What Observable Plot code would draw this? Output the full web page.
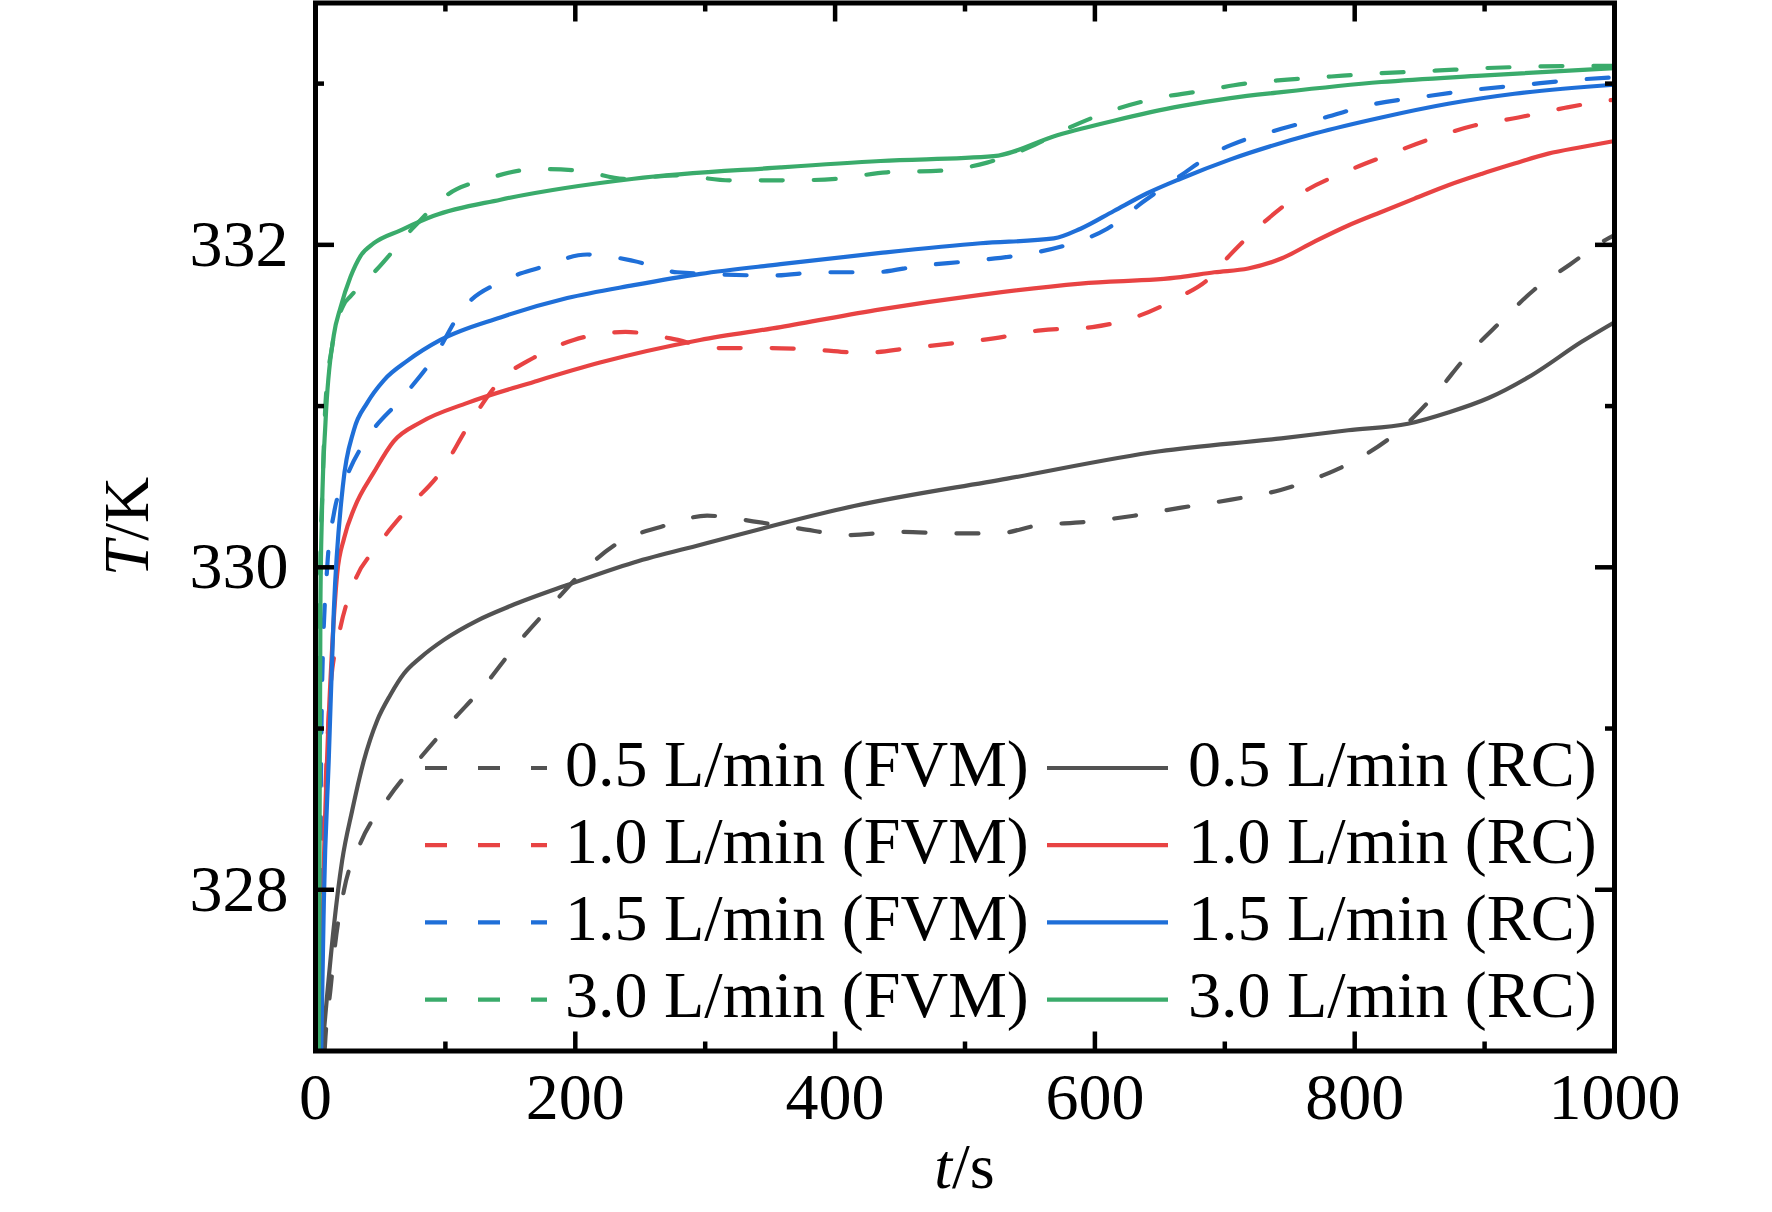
<!DOCTYPE html>
<html>
<head>
<meta charset="utf-8">
<script src="https://cdn.jsdelivr.net/npm/d3@7"></script>
<script src="https://cdn.jsdelivr.net/npm/@observablehq/plot@0.6"></script>
<style>
  html, body { margin: 0; padding: 0; background: #fff; }
  #chart { width: 1772px; height: 1212px; }
</style>
</head>
<body>
<div id="chart"></div>
<script>
// ---------- data ----------
const flowRates = ["0.5", "1.0", "1.5", "3.0"];
const seriesColors = ["#525252", "#e84343", "#1f6fd8", "#3aab6b"];

const xMajorTicks = [0, 200, 400, 600, 800, 1000];
const xMinorTicks = [100, 300, 500, 700, 900];
const yMajorTicks = [328, 330, 332];
const yMinorTicks = [329, 331, 333];

// 0.5 L/min
const t05FVM = [7, 7.7, 11.5, 15.1, 22, 34.6, 55.2, 78.8, 104.4, 131.4, 152.7, 183.5, 206.6, 234.8, 265.6, 301.5, 341, 373, 411.6, 450, 489.7, 525, 556, 591.5, 630, 666.5, 705, 743, 775.6, 806.4, 836, 861.6, 887.3, 912, 938, 966, 993, 1000];
const T05FVM = [327.0, 327.09, 327.38, 327.66, 328.0, 328.29, 328.56, 328.80, 329.04, 329.28, 329.50, 329.78, 329.98, 330.16, 330.25, 330.32, 330.28, 330.24, 330.20, 330.22, 330.21, 330.21, 330.26, 330.28, 330.32, 330.37, 330.42, 330.48, 330.57, 330.69, 330.86, 331.07, 331.32, 331.52, 331.72, 331.88, 332.03, 332.06];
const t05RC = [5.1, 9, 14.1, 20.5, 28.2, 37.2, 47.5, 57.7, 68, 80.8, 98.8, 124.5, 150, 193.8, 245, 296.6, 414.6, 532.5, 650, 743.5, 795, 841, 872, 903, 936, 975, 1000];
const T05RC = [327.0, 327.35, 327.77, 328.18, 328.49, 328.80, 329.05, 329.21, 329.34, 329.44, 329.55, 329.67, 329.76, 329.89, 330.03, 330.14, 330.38, 330.55, 330.72, 330.80, 330.85, 330.89, 330.96, 331.05, 331.19, 331.40, 331.52];

// 1.0 L/min
const t10FVM = [0.6, 2.6, 6.4, 11.5, 18, 29.5, 47.5, 71.5, 96.2, 119.3, 142.4, 168, 198.8, 238.6, 273.3, 309.2, 347.7, 383.7, 422.2, 458, 491.4, 522.2, 558.2, 598, 633.9, 663.4, 689, 702, 733, 761, 792, 823, 856, 892, 926, 962, 995, 1000];
const T10FVM = [327.0, 327.47, 328.37, 329.25, 329.58, 329.90, 330.13, 330.37, 330.59, 330.90, 331.16, 331.30, 331.41, 331.46, 331.42, 331.36, 331.36, 331.35, 331.33, 331.36, 331.39, 331.42, 331.47, 331.49, 331.56, 331.67, 331.80, 331.92, 332.16, 332.33, 332.45, 332.55, 332.65, 332.74, 332.79, 332.85, 332.895, 332.90];
const t10RC = [3.9, 4.4, 6.4, 9, 12.8, 16.7, 22, 30, 45, 60, 81, 117, 168, 219, 296, 358, 435, 512, 589, 666, 692, 718, 743.5, 769, 795, 820.5, 846, 872, 897.6, 923, 949, 975, 1000];
const T10RC = [327.0, 327.24, 328.15, 328.83, 329.5, 329.96, 330.18, 330.37, 330.59, 330.78, 330.9, 331.02, 331.15, 331.27, 331.41, 331.49, 331.60, 331.69, 331.76, 331.80, 331.83, 331.853, 331.915, 332.02, 332.12, 332.204, 332.287, 332.37, 332.44, 332.504, 332.566, 332.607, 332.644];

// 1.5 L/min
const t15FVM = [2.3, 2.6, 3.8, 5.1, 9, 14.1, 24.4, 42.3, 65.4, 91.1, 114.2, 142.4, 173.2, 209.2, 245, 278.4, 352.8, 388.8, 429.9, 465.8, 504.3, 545.3, 578.7, 609.5, 637.7, 666, 694.2, 705, 743.5, 777, 813, 854, 890, 931, 971, 1000];
const T15FVM = [327.0, 327.24, 328.37, 329.28, 330.0, 330.33, 330.57, 330.83, 331.04, 331.30, 331.61, 331.77, 331.86, 331.94, 331.90, 331.83, 331.81, 331.83, 331.83, 331.87, 331.90, 331.94, 332.0, 332.10, 332.27, 332.43, 332.58, 332.62, 332.72, 332.79, 332.87, 332.92, 332.96, 332.993, 333.024, 333.04];
const t15RC = [4.4, 6.4, 10.3, 14.1, 21, 29.5, 39.8, 52.6, 70.6, 96.2, 142.4, 193.8, 245, 296.4, 358, 435, 512, 568.4, 589, 614.6, 640.3, 666, 704.4, 769, 820.5, 872, 923, 1000];
const T15RC = [327.0, 327.92, 328.83, 329.73, 330.5, 330.85, 331.02, 331.16, 331.28, 331.41, 331.55, 331.67, 331.75, 331.82, 331.88, 331.95, 332.01, 332.04, 332.10, 332.21, 332.32, 332.41, 332.53, 332.69, 332.79, 332.875, 332.937, 332.993];

// 3.0 L/min
const t30FVM = [0.8, 2, 3.8, 5.1, 7.7, 12.8, 21.8, 26.9, 47.5, 75.7, 101.4, 132.2, 170.7, 204, 237.3, 278.4, 319.5, 368.2, 401.6, 440, 481, 517, 548, 581, 612, 648, 686.5, 707, 741, 782, 820.5, 861.6, 900, 941, 980, 1000];
const T30FVM = [327.0, 328.5, 330.07, 330.42, 331.02, 331.37, 331.63, 331.68, 331.85, 332.11, 332.31, 332.41, 332.47, 332.46, 332.41, 332.43, 332.40, 332.40, 332.41, 332.45, 332.46, 332.51, 332.60, 332.73, 332.83, 332.91, 332.96, 332.99, 333.02, 333.044, 333.065, 333.08, 333.096, 333.106, 333.11, 333.11];
const t30RC = [2.5, 3, 3.8, 5, 7.7, 14.1, 19.2, 26.9, 34.6, 44.9, 65.4, 91.1, 142.4, 245, 358, 435, 522, 571, 614.6, 666, 704.4, 743.5, 820.5, 897.6, 1000];
const T30RC = [327.0, 328.0, 329.78, 330.35, 330.90, 331.44, 331.61, 331.80, 331.93, 332.01, 332.09, 332.18, 332.28, 332.41, 332.48, 332.52, 332.55, 332.68, 332.77, 332.86, 332.91, 332.947, 333.01, 333.05, 333.096];

const fvmTimes = [t05FVM, t10FVM, t15FVM, t30FVM];
const fvmTemps = [T05FVM, T10FVM, T15FVM, T30FVM];
const rcTimes = [t05RC, t10RC, t15RC, t30RC];
const rcTemps = [T05RC, T10RC, T15RC, T30RC];

// ---------- layout / style ----------
const FONT = "'Liberation Serif', 'Times New Roman', serif";
const W = 1772, H = 1212;
const mL = 315, mR = 158, mT = 2.5, mB = 161.5;
const plotW = W - mL - mR, plotH = H - mT - mB;
const majorLen = 19, minorLen = 9;
const DASH = "22,31";
const LW = 4.2;

const toRows = (ts, Ts) => ts.map((t, i) => ({t, T: Ts[i]}));

const lineMarks = [];
flowRates.forEach((f, i) => {
  lineMarks.push(Plot.line(toRows(fvmTimes[i], fvmTemps[i]), {
    x: "t", y: "T", stroke: seriesColors[i], strokeWidth: LW,
    strokeDasharray: DASH, curve: "monotone-x"
  }));
});
flowRates.forEach((f, i) => {
  lineMarks.push(Plot.line(toRows(rcTimes[i], rcTemps[i]), {
    x: "t", y: "T", stroke: seriesColors[i], strokeWidth: LW,
    curve: "monotone-x"
  }));
});

const tickStyle = {stroke: "black", strokeWidth: 4.5};

const plot = Plot.plot({
  width: W,
  height: H,
  marginLeft: mL, marginRight: mR, marginTop: mT, marginBottom: mB,
  style: {fontFamily: FONT, fontSize: "66px", color: "black", background: "white", overflow: "visible"},
  x: {domain: [0, 1000], ticks: xMajorTicks, tickSize: 0, tickPadding: 21, tickFormat: d => String(d), label: null},
  y: {domain: [327, 333.5], ticks: yMajorTicks, tickSize: 0, tickPadding: 27, tickFormat: d => String(d), label: null},
  marks: [
    ...lineMarks,
    // bottom ticks
    Plot.ruleX(xMajorTicks, {...tickStyle, insetTop: plotH - majorLen}),
    Plot.ruleX(xMinorTicks, {...tickStyle, insetTop: plotH - minorLen}),
    // top ticks
    Plot.ruleX(xMajorTicks, {...tickStyle, insetBottom: plotH - majorLen}),
    Plot.ruleX(xMinorTicks, {...tickStyle, insetBottom: plotH - minorLen}),
    // left ticks
    Plot.ruleY(yMajorTicks, {...tickStyle, insetRight: plotW - majorLen}),
    Plot.ruleY(yMinorTicks, {...tickStyle, insetRight: plotW - minorLen}),
    // right ticks
    Plot.ruleY(yMajorTicks, {...tickStyle, insetLeft: plotW - majorLen}),
    Plot.ruleY(yMinorTicks, {...tickStyle, insetLeft: plotW - minorLen}),
    Plot.frame({stroke: "black", strokeWidth: 5})
  ]
});

document.getElementById("chart").appendChild(plot);

// ---------- axis titles and legend ----------
const svg = d3.select(plot);
const xs = plot.scale("x"), ys = plot.scale("y");
const xMid = (xs.apply(0) + xs.apply(1000)) / 2;
const yMid = (ys.apply(327) + ys.apply(333.5)) / 2;

const xt = svg.append("text")
  .attr("x", xMid).attr("y", 1188)
  .attr("text-anchor", "middle")
  .attr("font-family", FONT).attr("font-size", 64).attr("fill", "black");
xt.append("tspan").attr("font-style", "italic").text("t");
xt.append("tspan").text("/s");

const yt = svg.append("text")
  .attr("transform", `translate(148,${yMid}) rotate(-90)`)
  .attr("text-anchor", "middle")
  .attr("font-family", FONT).attr("font-size", 64).attr("fill", "black");
yt.append("tspan").attr("font-style", "italic").text("T");
yt.append("tspan").text("/K");

const legendTop = 768, legendStep = 77.2;
const leg = svg.append("g")
  .attr("font-family", FONT).attr("font-size", 66).attr("fill", "black")
  .attr("text-anchor", "start");
flowRates.forEach((f, i) => {
  const y = legendTop + i * legendStep;
  leg.append("line").attr("x1", 425).attr("x2", 547).attr("y1", y).attr("y2", y)
    .attr("stroke", seriesColors[i]).attr("stroke-width", LW).attr("stroke-dasharray", DASH);
  leg.append("text").attr("x", 565).attr("y", y + 17.5).attr("text-anchor", "start").text(`${f} L/min (FVM)`);
  leg.append("line").attr("x1", 1047).attr("x2", 1168).attr("y1", y).attr("y2", y)
    .attr("stroke", seriesColors[i]).attr("stroke-width", LW);
  leg.append("text").attr("x", 1188).attr("y", y + 17.5).attr("text-anchor", "start").text(`${f} L/min (RC)`);
});
</script>
</body>
</html>
